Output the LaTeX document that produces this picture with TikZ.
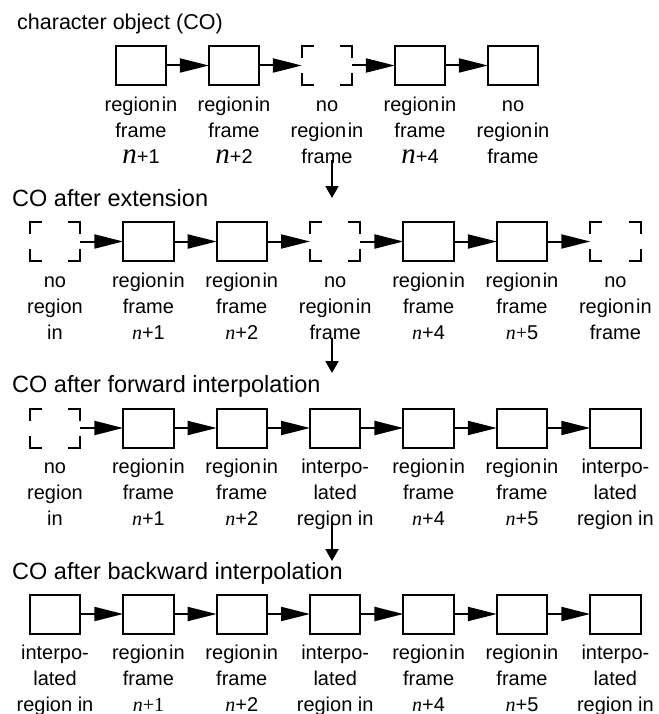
\documentclass[tikz,border=0pt]{standalone}
\usepackage{fontspec}
\setmainfont{Liberation Sans}
\newfontfamily\serfont{Liberation Serif}
\usetikzlibrary{arrows.meta}

% frame number, italic n
\newcommand{\nn}{{\serfont\itshape n}}
\newcommand{\bign}{{\serfont\itshape\fontsize{29}{26}\selectfont n}}
% tight "region in"
\newcommand{\rin}{region\hspace{1.5pt}in}
% three line caption under a box
\newcommand{\tri}[3]{\strut #1\\\strut #2\\\strut #3}
% corner marks of a missing region
\newcommand{\corners}[1]{%
	\draw[cornerline] ([xshift=12pt]#1.north west) -| ([yshift=-12pt]#1.north west);
	\draw[cornerline] ([xshift=-12pt]#1.north east) -| ([yshift=-12pt]#1.north east);
	\draw[cornerline] ([xshift=12pt]#1.south west) -| ([yshift=12pt]#1.south west);
	\draw[cornerline] ([xshift=-12pt]#1.south east) -| ([yshift=12pt]#1.south east);
}

\begin{document}
\begin{tikzpicture}[x=1pt, y=-1pt,
	font=\fontsize{20}{26}\selectfont,
	box/.style={shape=rectangle, draw=black, line width=2pt, minimum width=50.3pt, minimum height=39pt, inner sep=0pt, outer sep=0pt},
	emptybox/.style={shape=rectangle, minimum width=50.3pt, minimum height=39pt, inner sep=0pt, outer sep=0pt},
	cornerline/.style={line width=2pt},
	lbl/.style={anchor=north, align=center, inner sep=0pt, yshift=-7.7pt},
	title/.style={anchor=base west, inner sep=0pt, font=\fontsize{23.5}{26}\selectfont},
	link/.style={-{Triangle[length=29pt, width=14pt]}, line width=2pt},
	down/.style={-{Triangle[length=12pt, width=13pt]}, line width=2pt}]

	\useasboundingbox (0, 0) rectangle (658, 714);

	% character object
	\node[title, font=\fontsize{21.5}{26}\selectfont] (t1) at (17, 30) {character object (CO)};
	\node[box] (a1) at (141, 65.5) {};
	\node[box] (a2) at (234, 65.5) {};
	\node[emptybox] (a3) at (327, 65.5) {};
	\node[box] (a4) at (420, 65.5) {};
	\node[box] (a5) at (513, 65.5) {};
	\node[lbl] (la1) at (a1.south) {\tri{\rin}{frame}{\bign+1}};
	\node[lbl] (la2) at (a2.south) {\tri{\rin}{frame}{\bign+2}};
	\node[lbl] (la3) at (a3.south) {\tri{no}{\rin}{frame}};
	\node[lbl] (la4) at (a4.south) {\tri{\rin}{frame}{\bign+4}};
	\node[lbl] (la5) at (a5.south) {\tri{no}{\rin}{frame}};
	\corners{a3}
	\path[link] (a1) edge (a2) (a2) edge (a3) (a3) edge (a4) (a4) edge (a5);

	% after extension
	\node[title] (t2) at (12, 206.5) {CO after extension};
	\node[emptybox] (b1) at (55, 241.5) {};
	\node[box] (b2) at (148.4, 241.5) {};
	\node[box] (b3) at (241.8, 241.5) {};
	\node[emptybox] (b4) at (335.2, 241.5) {};
	\node[box] (b5) at (428.6, 241.5) {};
	\node[box] (b6) at (522, 241.5) {};
	\node[emptybox] (b7) at (615.4, 241.5) {};
	\node[lbl] (lb1) at (b1.south) {\tri{no}{region}{in}};
	\node[lbl] (lb2) at (b2.south) {\tri{\rin}{frame}{\nn+1}};
	\node[lbl] (lb3) at (b3.south) {\tri{\rin}{frame}{\nn+2}};
	\node[lbl] (lb4) at (b4.south) {\tri{no}{\rin}{frame}};
	\node[lbl] (lb5) at (b5.south) {\tri{\rin}{frame}{\nn+4}};
	\node[lbl] (lb6) at (b6.south) {\tri{\rin}{frame}{\nn{\serfont+}5}};
	\node[lbl] (lb7) at (b7.south) {\tri{no}{\rin}{frame}};
	\corners{b1}
	\corners{b4}
	\corners{b7}
	\path[link] (b1) edge (b2) (b2) edge (b3) (b3) edge (b4) (b4) edge (b5) (b5) edge (b6) (b6) edge (b7);

	% after forward interpolation
	\node[title] (t3) at (12, 392) {CO after forward interpolation};
	\node[emptybox] (c1) at (55, 428) {};
	\node[box] (c2) at (148.4, 428) {};
	\node[box] (c3) at (241.8, 428) {};
	\node[box] (c4) at (335.2, 428) {};
	\node[box] (c5) at (428.6, 428) {};
	\node[box] (c6) at (522, 428) {};
	\node[box] (c7) at (615.4, 428) {};
	\node[lbl] (lc1) at (c1.south) {\tri{no}{region}{in}};
	\node[lbl] (lc2) at (c2.south) {\tri{\rin}{frame}{\nn+1}};
	\node[lbl] (lc3) at (c3.south) {\tri{\rin}{frame}{\nn+2}};
	\node[lbl] (lc4) at (c4.south) {\tri{interpo-}{lated}{region in}};
	\node[lbl] (lc5) at (c5.south) {\tri{\rin}{frame}{\nn+4}};
	\node[lbl] (lc6) at (c6.south) {\tri{\rin}{frame}{\nn+5}};
	\node[lbl] (lc7) at (c7.south) {\tri{interpo-}{lated}{region in}};
	\corners{c1}
	\path[link] (c1) edge (c2) (c2) edge (c3) (c3) edge (c4) (c4) edge (c5) (c5) edge (c6) (c6) edge (c7);

	% after backward interpolation
	\node[title] (t4) at (12, 579) {CO after backward interpolation};
	\node[box] (d1) at (55, 614) {};
	\node[box] (d2) at (148.4, 614) {};
	\node[box] (d3) at (241.8, 614) {};
	\node[box] (d4) at (335.2, 614) {};
	\node[box] (d5) at (428.6, 614) {};
	\node[box] (d6) at (522, 614) {};
	\node[box] (d7) at (615.4, 614) {};
	\node[lbl] (ld1) at (d1.south) {\tri{interpo-}{lated}{region in}};
	\node[lbl] (ld2) at (d2.south) {\tri{\rin}{frame}{\nn{\serfont+1}}};
	\node[lbl] (ld3) at (d3.south) {\tri{\rin}{frame}{\nn+2}};
	\node[lbl] (ld4) at (d4.south) {\tri{interpo-}{lated}{region in}};
	\node[lbl] (ld5) at (d5.south) {\tri{\rin}{frame}{\nn+4}};
	\node[lbl] (ld6) at (d6.south) {\tri{\rin}{frame}{\nn+5}};
	\node[lbl] (ld7) at (d7.south) {\tri{interpo-}{lated}{region in}};
	\path[link] (d1) edge (d2) (d2) edge (d3) (d3) edge (d4) (d4) edge (d5) (d5) edge (d6) (d6) edge (d7);

	% steps
	\coordinate (s1) at (332, 160);
	\coordinate (e1) at (332, 198);
	\coordinate (s2) at (332, 338);
	\coordinate (e2) at (332, 373);
	\coordinate (s3) at (332, 522);
	\coordinate (e3) at (332, 561);
	\draw[down] (s1) -- (e1);
	\draw[down] (s2) -- (e2);
	\draw[down] (s3) -- (e3);

\end{tikzpicture}
\end{document}
